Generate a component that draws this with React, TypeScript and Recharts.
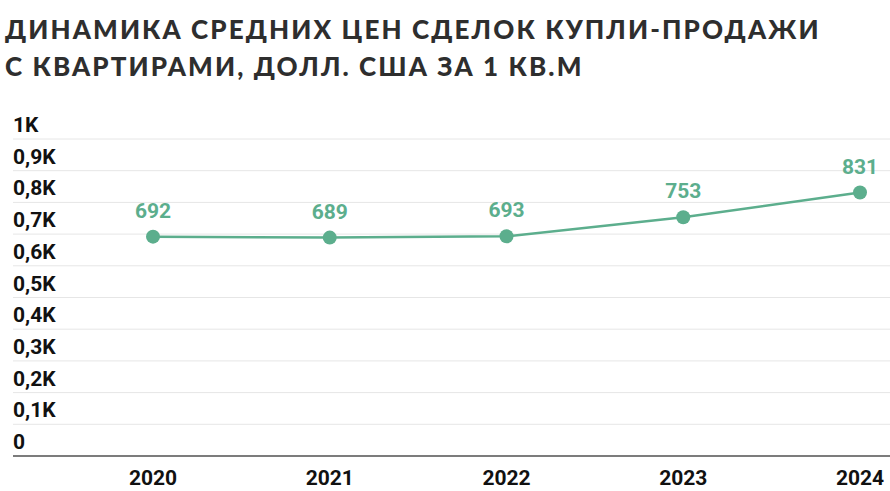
import { LineChart, Line, XAxis, YAxis, CartesianGrid, LabelList } from "recharts"

const years = ["2020", "2021", "2022", "2023", "2024"]
const prices = [692, 689, 693, 753, 831]
const yTicks = [0, 100, 200, 300, 400, 500, 600, 700, 800, 900, 1000]

const data = years.map((year, i) => ({ year, price: prices[i] }))

const GREEN = "#5cae8d"

if (typeof document !== "undefined") document.body.style.margin = "0"

function fmtK(v: number) {
  if (v === 0) return "0"
  if (v === 1000) return "1K"
  return "0," + v / 100 + "K"
}

function YTick(props: any) {
  const { y, payload } = props
  return (
    <text x={13} y={y - 7} fontSize={21} fontWeight={700} fill="#111" fontFamily="Roboto, sans-serif">
      {fmtK(payload.value)}
    </text>
  )
}

export default function App() {
  return (
    <div style={{ position: "relative", width: 890, height: 491, background: "#fff", overflow: "hidden" }}>
      <div
        style={{
          position: "absolute",
          left: 5,
          top: 11,
          fontFamily: "Lato, sans-serif",
          fontWeight: 900,
          fontSize: 26,
          lineHeight: "37px",
          letterSpacing: 2.1,
          color: "#2e2e2e",
        }}
      >
        ДИНАМИКА СРЕДНИХ ЦЕН СДЕЛОК КУПЛИ-ПРОДАЖИ
        <br />
        С КВАРТИРАМИ, ДОЛЛ. США ЗА 1 КВ.М
      </div>
      <LineChart width={890} height={491} data={data} margin={{ top: 139, right: 0, left: 12, bottom: 0 }}>
        <CartesianGrid vertical={false} stroke="#e6e6e6" />
        <XAxis
          dataKey="year"
          padding={{ left: 140, right: 30 }}
          axisLine={{ stroke: "#555", strokeWidth: 1.5 }}
          tickLine={false}
          tick={{ fontSize: 21, fontWeight: 700, fill: "#111", fontFamily: "Roboto, sans-serif" }}
          tickMargin={8}
          height={35}
        />
        <YAxis
          width={1}
          domain={[0, 1000]}
          ticks={yTicks}
          interval={0}
          axisLine={false}
          tickLine={false}
          tick={(p: any) => <YTick {...p} />}
        />
        <Line
          dataKey="price"
          stroke={GREEN}
          strokeWidth={2.5}
          dot={{ r: 7, fill: GREEN, stroke: GREEN, strokeWidth: 0 }}
          isAnimationActive={false}
        >
          <LabelList
            dataKey="price"
            position="top"
            offset={19}
            fill={GREEN}
            fontSize={21}
            fontWeight={700}
            fontFamily="Roboto, sans-serif"
          />
        </Line>
      </LineChart>
    </div>
  )
}
